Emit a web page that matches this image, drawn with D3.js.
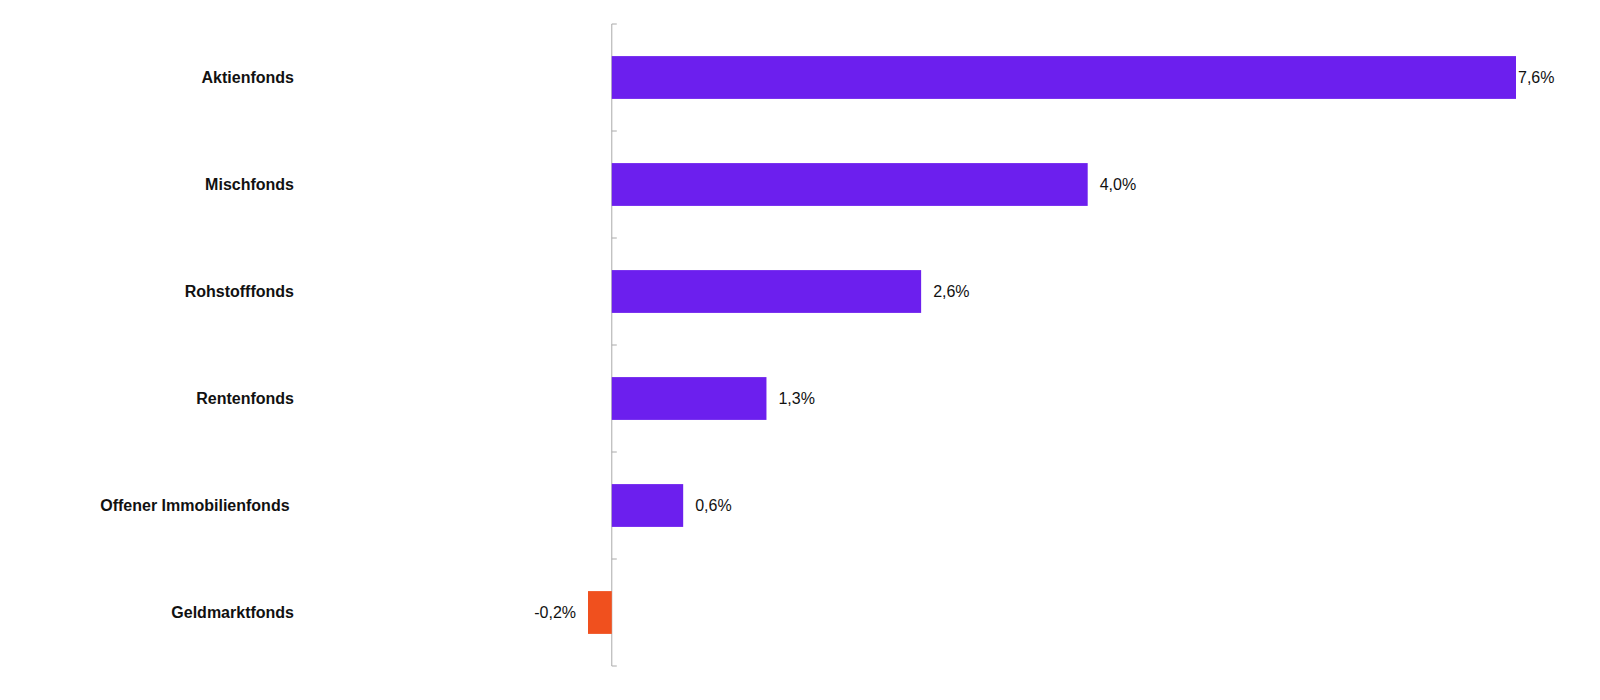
<!DOCTYPE html>
<html><head><meta charset="utf-8">
<script src="https://cdn.jsdelivr.net/npm/d3@7"></script>
<style>body{margin:0;background:#fff}</style></head>
<body><svg id="c" width="1600" height="700"></svg>
<script>
const categories=["Aktienfonds","Mischfonds","Rohstofffonds","Rentenfonds","Offener Immobilienfonds ","Geldmarktfonds"];
const values=[7.6,4.0,2.6,1.3,0.6,-0.2];
const labels=["7,6%","4,0%","2,6%","1,3%","0,6%","-0,2%"];
const svg=d3.select("#c");
const x=d3.scaleLinear().domain([-0.2,7.6]).range([588,1516]);
const y=d3.scaleBand().domain(categories).range([24,666]).paddingInner(0.6).paddingOuter(0.3);
const step=y.step();
// axis line and ticks
svg.append("line").attr("x1",x(0)).attr("x2",x(0)).attr("y1",24).attr("y2",666).attr("stroke","#aaa");
const tickYs=d3.range(categories.length+1).map(i=>24+i*(642/categories.length));
svg.selectAll(".tk").data(tickYs).join("line").attr("x1",x(0)).attr("x2",x(0)+5).attr("y1",d=>d).attr("y2",d=>d).attr("stroke","#aaa");
svg.selectAll(".bar").data(values).join("rect")
 .attr("x",d=>x(Math.min(0,d))).attr("width",d=>Math.abs(x(d)-x(0)))
 .attr("y",(d,i)=>y(categories[i])).attr("height",y.bandwidth())
 .attr("fill",d=>d<0?"#F0501E":"#6C1FEE");
svg.selectAll(".vl").data(values).join("text")
 .attr("x",(d,i)=>d<0?x(d)-12:x(d)+(i==0?2:12))
 .attr("y",(d,i)=>y(categories[i])+y.bandwidth()/2).attr("dy","0.35em")
 .attr("text-anchor",d=>d<0?"end":"start")
 .attr("font-family","Liberation Sans, Arial, sans-serif").attr("font-size",16).attr("fill","#111")
 .text((d,i)=>labels[i]);
svg.selectAll(".cl").data(categories).join("text")
 .attr("x",294).attr("y",d=>y(d)+y.bandwidth()/2).attr("dy","0.35em")
 .attr("text-anchor","end").attr("font-family","Liberation Sans, Arial, sans-serif")
 .attr("font-size",16).attr("font-weight","bold").attr("fill","#111")
 .attr("xml:space","preserve").style("white-space","pre")
 .text(d=>d);
</script></body></html>
